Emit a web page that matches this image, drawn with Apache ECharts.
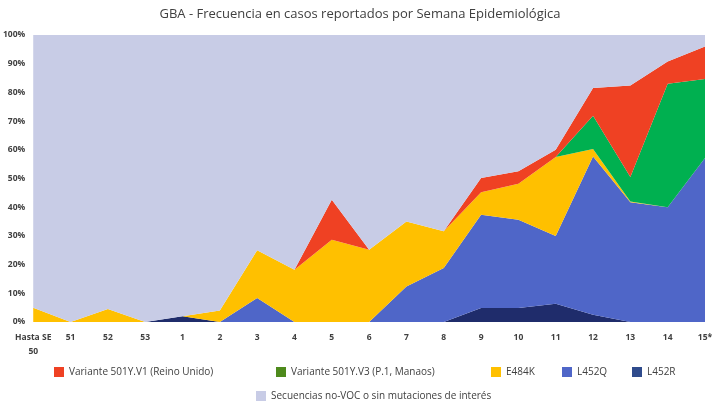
<!DOCTYPE html>
<html><head><meta charset="utf-8">
<script src="https://cdn.jsdelivr.net/npm/echarts@6/dist/echarts.min.js"></script>
<style>html,body{margin:0;padding:0;background:#fff}#c{width:720px;height:405px}</style>
</head><body><div id="c"></div>
<script>
var categories = ['Hasta SE\n50','51','52','53','1','2','3','4','5','6','7','8','9','10','11','12','13','14','15*'];
var l452r   = [0,0,0,0,2,0,0,0,0,0,0,0,4.9,4.9,6.4,2.5,0,0,0];
var l452q   = [0,0,0,0,0,0,8.4,0,0,0,12.4,18.8,32.5,30.7,23.6,55.2,41.7,40,57.1];
var e484k   = [5,0,4.5,0,0,4,16.6,18.2,28.7,25.2,22.6,12.8,7.8,12.6,27.5,2.6,0.3,0,0];
var p1      = [0,0,0,0,0,0,0,0,0,0,0,0,0,0,0,11.6,8.5,43,27.6];
var v1      = [0,0,0,0,0,0,0,0,13.9,0,0,0,5,4.3,2.5,9.6,31.9,7.8,11.3];
var noVoc   = [95,100,95.5,100,98,96,75,81.8,57.4,74.8,65,68.4,49.8,47.5,40,18.5,17.6,9.2,4];
var yTicks  = [0,10,20,30,40,50,60,70,80,90,100];

var FONT = "'Open Sans',sans-serif";
function mk(name, data, area, legendColor){
  return {name:name, type:'line', stack:'t', data:data, symbol:'none', showSymbol:false,
    lineStyle:{width:0}, itemStyle:{color:legendColor}, areaStyle:{color:area, opacity:1}, z:2};
}
function lg(name, left, top){
  return {data:[name], left:left, top:top, icon:'rect', itemWidth:10, itemHeight:10,
    textStyle:{fontFamily:FONT, fontSize:10, color:'#404040'}, selectedMode:false};
}
var chart = echarts.init(document.getElementById('c'));
chart.setOption({
  animation:false,
  title:{text:'GBA - Frecuencia en casos reportados por Semana Epidemiológica', left:'center', top:3,
    textStyle:{fontFamily:FONT, fontSize:13, fontWeight:'normal', color:'#404040'}},
  legend:[
    lg('Variante 501Y.V1 (Reino Unido)', 49, 362),
    lg('Variante 501Y.V3 (P.1, Manaos)', 271, 362),
    lg('E484K', 486, 362),
    lg('L452Q', 557, 362),
    lg('L452R', 627, 362),
    lg('Secuencias no-VOC o sin mutaciones de interés', 251, 386)
  ],
  grid:{left:33, right:15, top:35, bottom:83},
  xAxis:{type:'category', data:categories, boundaryGap:false,
    axisLine:{show:false}, axisTick:{show:false},
    axisLabel:{interval:0, margin:9, fontFamily:FONT, fontSize:8.5, fontWeight:'bold', color:'#404040', lineHeight:14}},
  yAxis:{type:'value', min:0, max:100, interval:10,
    axisLine:{show:false}, axisTick:{show:false}, splitLine:{show:false},
    axisLabel:{margin:8, fontFamily:FONT, fontSize:8.5, fontWeight:'bold', color:'#404040',
      formatter:function(v){return yTicks.indexOf(v)>=0 ? v+'%' : '';}}},
  series:[
    mk('L452R', l452r, '#1f2c6b', '#2f4b8c'),
    mk('L452Q', l452q, '#4f66c8', '#4f66c8'),
    mk('E484K', e484k, '#ffc000', '#ffc000'),
    mk('Variante 501Y.V3 (P.1, Manaos)', p1, '#00b050', '#4e8a1c'),
    mk('Variante 501Y.V1 (Reino Unido)', v1, '#ef4123', '#ef4123'),
    mk('Secuencias no-VOC o sin mutaciones de interés', noVoc, '#c8cce6', '#c8cce6')
  ]
});
</script></body></html>
